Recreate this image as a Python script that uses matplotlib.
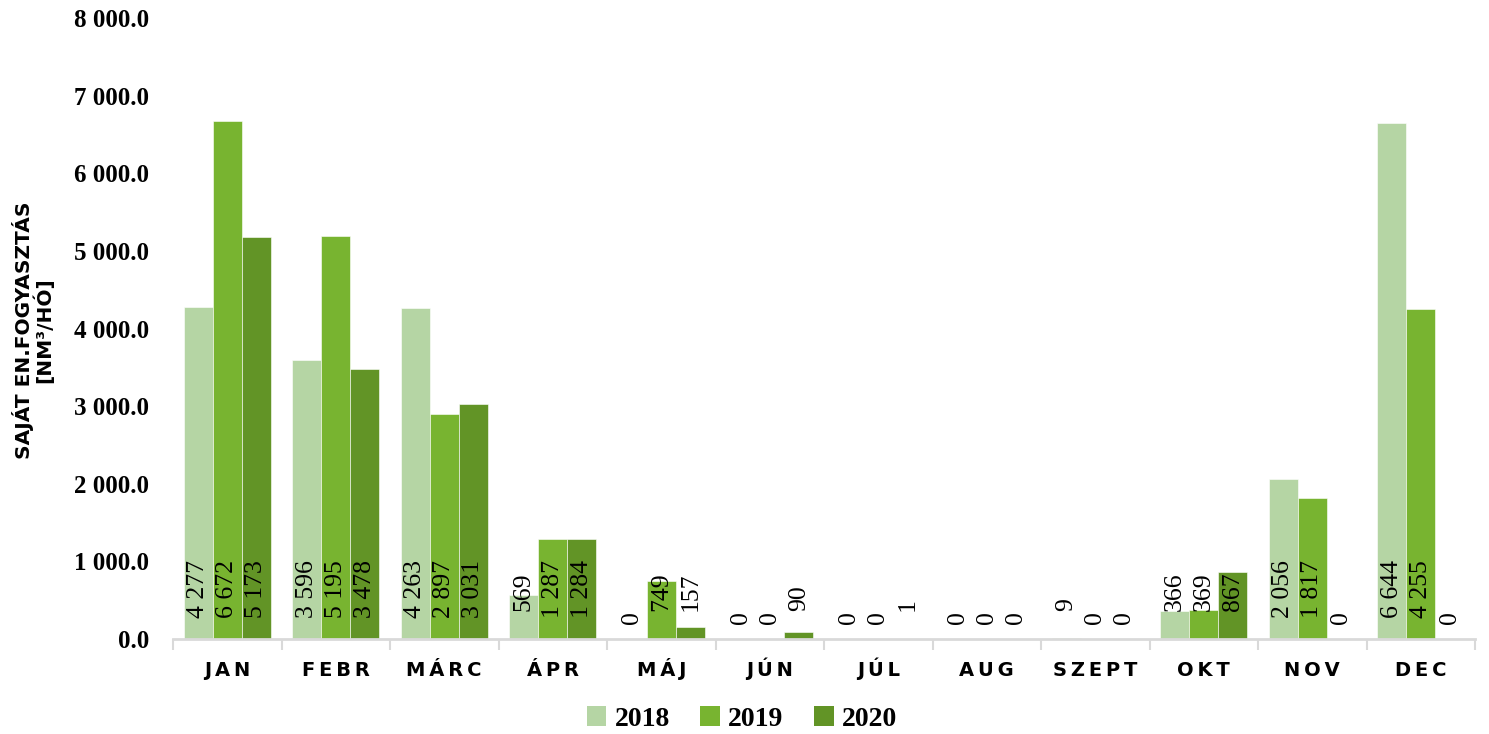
import matplotlib
matplotlib.use("Agg")
import matplotlib.pyplot as plt
import matplotlib.transforms as mtransforms
import numpy as np
from matplotlib.patches import Patch

months = ["JAN", "FEBR", "MÁRC", "ÁPR", "MÁJ", "JÚN", "JÚL", "AUG", "SZEPT", "OKT", "NOV", "DEC"]
years = ["2018", "2019", "2020"]
v2018 = [4277, 3596, 4263, 569, 0, 0, 0, 0, 9, 366, 2056, 6644]
v2019 = [6672, 5195, 2897, 1287, 749, 0, 0, 0, 0, 369, 1817, 4255]
v2020 = [5173, 3478, 3031, 1284, 157, 90, 1, 0, 0, 867, 0, 0]
series = [v2018, v2019, v2020]
colors = ["#b5d5a4", "#78b430", "#629426"]
yticks = [0, 1000, 2000, 3000, 4000, 5000, 6000, 7000, 8000]

W, H = 1489, 734
fig = plt.figure(figsize=(W / 100, H / 100), dpi=100)
ax = fig.add_axes([173 / W, 1 - 639 / H, (1475 - 173) / W, (639 - 18) / H])

serif = ["Liberation Serif", "DejaVu Serif"]
px = 0.72  # points per pixel

x = np.arange(len(months))
bw = 0.267
for j, (vals, col) in enumerate(zip(series, colors)):
    xs = x + (j - 1) * bw
    ax.bar(xs, vals, width=bw, color=col, edgecolor="white", linewidth=0.4, label=years[j])
    for xi, v in zip(xs, vals):
        if v == 0:
            off = 15
        elif v >= 1000:
            off = 21
        else:
            off = 28
        ax.annotate(f"{v:,}".replace(",", " "), xy=(xi, 0), xytext=(0, off * px),
                    textcoords="offset points", rotation=90, ha="center", va="bottom",
                    fontsize=18.5, family=serif, color="black")

ax.set_xlim(-0.5, len(months) - 0.5)
ax.set_ylim(0, 8000)
ax.set_yticks(yticks)
ax.set_yticklabels([f"{t:,.1f}".replace(",", " ") for t in yticks],
                   family=serif, fontweight="bold", fontsize=18)
ax.tick_params(axis="y", length=0, pad=17)

# category boundary ticks
ax.set_xticks(np.arange(-0.5, len(months)))
ax.set_xticklabels([])
ax.tick_params(axis="x", length=8, width=1.5, color="#d9d9d9")
trans = mtransforms.blended_transform_factory(ax.transData, fig.transFigure)
for xi, m in zip(x, months):
    ax.text(xi, 1 - 676 / H, "\u2009".join(m), transform=trans, ha="center", va="baseline",
            fontsize=14, fontweight="bold", family="DejaVu Sans")

for s in ["top", "right", "left"]:
    ax.spines[s].set_visible(False)
ax.spines["bottom"].set_color("#d9d9d9")
ax.spines["bottom"].set_linewidth(2)

fig.text(33 / W, 1 - 330 / H, "SAJÁT EN.FOGYASZTÁS\n[NM³/HÓ]", rotation=90,
         ha="center", va="center", fontsize=14.5, fontweight="bold", family="DejaVu Sans",
         linespacing=0.95)

handles = [Patch(facecolor=c, edgecolor="none") for c in colors]
fig.legend(handles, years, loc="center", bbox_to_anchor=(742 / W, 1 - 719 / H), ncol=3,
           frameon=False, prop={"family": serif, "weight": "bold", "size": 20},
           handlelength=0.7, handleheight=0.7, handletextpad=0.3, columnspacing=1.1)

fig.savefig("out.png", dpi=100)
